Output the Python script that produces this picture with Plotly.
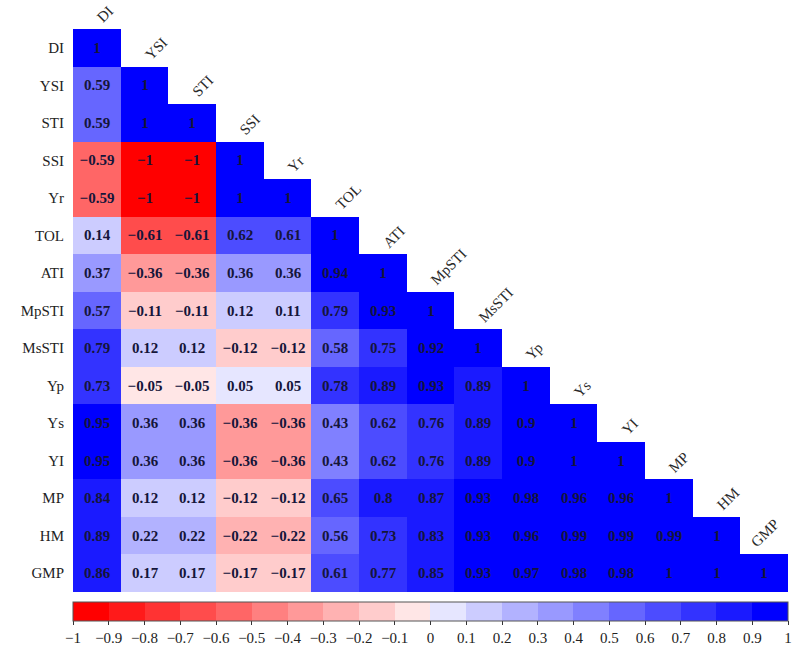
import plotly.graph_objects as go

labels = ["DI", "YSI", "STI", "SSI", "Yr", "TOL", "ATI", "MpSTI", "MsSTI",
          "Yp", "Ys", "YI", "MP", "HM", "GMP"]

r_DI = [1]
r_YSI = [0.59, 1]
r_STI = [0.59, 1, 1]
r_SSI = [-0.59, -1, -1, 1]
r_Yr = [-0.59, -1, -1, 1, 1]
r_TOL = [0.14, -0.61, -0.61, 0.62, 0.61, 1]
r_ATI = [0.37, -0.36, -0.36, 0.36, 0.36, 0.94, 1]
r_MpSTI = [0.57, -0.11, -0.11, 0.12, 0.11, 0.79, 0.93, 1]
r_MsSTI = [0.79, 0.12, 0.12, -0.12, -0.12, 0.58, 0.75, 0.92, 1]
r_Yp = [0.73, -0.05, -0.05, 0.05, 0.05, 0.78, 0.89, 0.93, 0.89, 1]
r_Ys = [0.95, 0.36, 0.36, -0.36, -0.36, 0.43, 0.62, 0.76, 0.89, 0.9, 1]
r_YI = [0.95, 0.36, 0.36, -0.36, -0.36, 0.43, 0.62, 0.76, 0.89, 0.9, 1, 1]
r_MP = [0.84, 0.12, 0.12, -0.12, -0.12, 0.65, 0.8, 0.87, 0.93, 0.98, 0.96, 0.96, 1]
r_HM = [0.89, 0.22, 0.22, -0.22, -0.22, 0.56, 0.73, 0.83, 0.93, 0.96, 0.99, 0.99, 0.99, 1]
r_GMP = [0.86, 0.17, 0.17, -0.17, -0.17, 0.61, 0.77, 0.85, 0.93, 0.97, 0.98, 0.98, 1, 1, 1]

rows = [r_DI, r_YSI, r_STI, r_SSI, r_Yr, r_TOL, r_ATI, r_MpSTI, r_MsSTI,
        r_Yp, r_Ys, r_YI, r_MP, r_HM, r_GMP]

tick_vals = [round(-1 + 0.1 * i, 1) for i in range(21)]

n = len(labels)
z = []
txt = []
for r in rows:
    zr = list(r) + [None] * (n - len(r))
    tr = [("%g" % v).replace("-", "\u2212") for v in r]
    tr += [""] * (n - len(r))
    z.append(zr)
    txt.append(tr)

# discrete 20-step red-white-blue colorscale
cs = []
for k in range(20):
    lo = k / 20
    hi = (k + 1) / 20
    if k < 10:
        w = k / 10
        c = "rgb(255,%d,%d)" % (round(255 * w), round(255 * w))
    else:
        w = (19 - k) / 10
        c = "rgb(%d,%d,255)" % (round(255 * w), round(255 * w))
    cs.append([lo, c])
    cs.append([hi, c])

def fmt(v):
    if v == 0:
        return "0"
    return ("%g" % v).replace("-", "\u2212")

fig = go.Figure(go.Heatmap(
    z=z, x=list(range(n)), y=list(range(n)),
    text=txt, texttemplate="<b>%{text}</b>",
    textfont=dict(family="Liberation Serif", size=15, color="#15153a"),
    colorscale=cs, zmin=-1, zmax=1, hoverinfo="skip",
    colorbar=dict(
        orientation="h", thickness=19, len=1, lenmode="fraction",
        x=0.5, xanchor="center", xref="paper",
        y=-0.017, yanchor="top", ypad=0, xpad=0,
        tickvals=tick_vals, ticktext=[fmt(v) for v in tick_vals],
        ticks="outside", ticklen=4, tickcolor="#333",
        tickfont=dict(family="Liberation Serif", size=15, color="#222"),
        outlinewidth=1, outlinecolor="#555",
    ),
))

for j, lab in enumerate(labels):
    off = 0.12 if j < n - 1 else 0.4
    fig.add_annotation(
        x=j - off, y=j - 0.5, xref="x", yref="y",
        text=lab, textangle=-45, showarrow=False,
        xanchor="left", yanchor="bottom", yshift=1,
        font=dict(family="Liberation Serif", size=15, color="#2a2a2a"),
    )

fig.update_xaxes(range=[-0.5, n - 0.5], showticklabels=False, showgrid=False,
                 zeroline=False, showline=False)
fig.update_yaxes(range=[n - 0.5, -0.5], tickvals=list(range(n)), ticktext=labels,
                 showgrid=False, zeroline=False, showline=False,
                 ticklabelstandoff=8,
                 tickfont=dict(family="Liberation Serif", size=15, color="#222"))

fig.update_layout(
    width=792, height=649,
    margin=dict(l=73, r=4, t=29, b=57, autoexpand=False),
    plot_bgcolor="white", paper_bgcolor="white",
)

fig.write_html("out.html")
